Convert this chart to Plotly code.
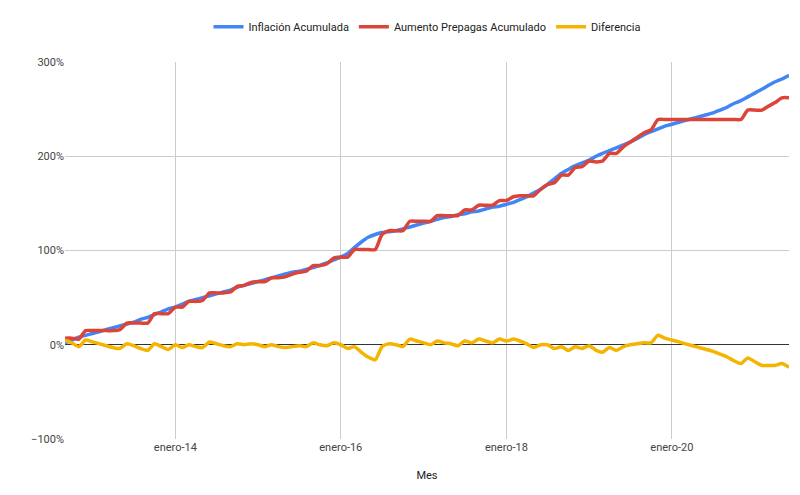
import pandas as pd
import plotly.graph_objects as go

meses = pd.date_range('2012-09-01', '2021-06-01', freq='MS')

inflacion = [
    2, 5, 8, 10,
    12, 14, 16, 18, 20, 22, 24, 27, 29, 32, 35, 38,
    40, 43, 46, 48, 50, 52, 54, 56, 58, 61, 63, 65,
    67, 69, 71, 73, 75, 77, 78, 80, 82, 84, 87, 90,
    93, 97, 103, 109, 114, 117, 119, 120, 121, 123, 125, 127,
    129, 131, 133, 135, 136, 138, 139, 141, 142, 144, 146, 147,
    149, 151, 154, 157, 161, 165, 170, 176, 182, 186, 190, 193,
    196, 200, 203, 206, 209, 212, 215, 219, 223, 226, 229, 232,
    234, 236, 238, 240, 242, 244, 246, 249, 252, 256, 259, 263,
    267, 271, 275, 279, 282, 286,
]

prepagas = [
    7, 7, 6, 15,
    15, 15, 15, 15, 16, 23, 23, 23, 23, 33, 33, 33,
    40, 40, 46, 46, 47, 55, 55, 55, 56, 62, 63, 66,
    67, 67, 71, 71, 72, 75, 77, 78, 84, 84, 86, 92,
    93, 93, 101, 101, 101, 101, 117, 121, 121, 121, 131, 131,
    131, 131, 137, 137, 137, 137, 143, 143, 148, 148, 148, 153,
    153, 157, 158, 158, 158, 165, 170, 172, 180, 180, 188, 189,
    195, 194, 195, 203, 203, 210, 215, 220, 225, 228, 239, 239,
    239, 239, 239, 239, 239, 239, 239, 239, 239, 239, 239, 249,
    249, 249, 253, 257, 262, 262,
]

diferencia = [p - i for p, i in zip(prepagas, inflacion)]

tick_fechas = ['2014-01-01', '2016-01-01', '2018-01-01', '2020-01-01']
tick_textos = ['enero-14', 'enero-16', 'enero-18', 'enero-20']

fig = go.Figure()
fig.add_trace(go.Scatter(x=meses, y=[v / 100 for v in inflacion], name='Inflación Acumulada',
                         mode='lines', line=dict(color='#4285F4', width=3.5, shape='spline', smoothing=0.6)))
fig.add_trace(go.Scatter(x=meses, y=[v / 100 for v in prepagas], name='Aumento Prepagas Acumulado',
                         mode='lines', line=dict(color='#DB4437', width=3.5, shape='spline', smoothing=0.6)))
fig.add_trace(go.Scatter(x=meses, y=[v / 100 for v in diferencia], name='Diferencia',
                         mode='lines', line=dict(color='#F4B400', width=3.5, shape='spline', smoothing=0.6)))

fig.update_layout(
    width=800, height=495,
    paper_bgcolor='white', plot_bgcolor='white',
    margin=dict(l=57, r=19, t=54, b=64, autoexpand=False),
    font=dict(family='Roboto, Arial', size=11, color='#444'),
    legend=dict(orientation='h', x=0.5, xanchor='center', y=1.055, yanchor='bottom', font=dict(size=11, color='#222')),
    showlegend=True,
)
fig.update_xaxes(range=['2012-09-01', '2021-06-01'], tickvals=tick_fechas, ticktext=tick_textos,
                 showgrid=True, gridcolor='#cccccc', zeroline=False, showline=False,
                 title=dict(text='Mes', font=dict(size=11, color='#222'), standoff=18), ticks='')
fig.update_yaxes(range=[-1, 3], tickvals=[-1, 0, 1, 2, 3], tickformat='.0%',
                 showgrid=True, gridcolor='#cccccc', zeroline=True, zerolinecolor='#333', zerolinewidth=1)

fig.write_html('out.html')
